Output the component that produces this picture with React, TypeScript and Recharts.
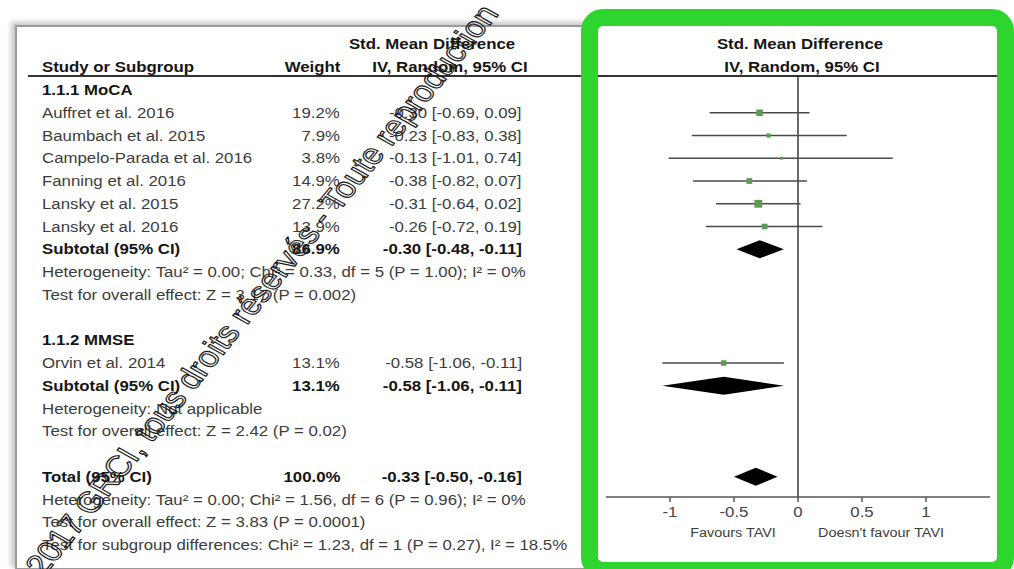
import React from 'react';
import { ComposedChart, Scatter, XAxis, YAxis, ReferenceLine, ReferenceArea } from 'recharts';

// individual studies
const studyNames = [
  'Auffret et al. 2016',
  'Baumbach et al. 2015',
  'Campelo-Parada et al. 2016',
  'Fanning et al. 2016',
  'Lansky et al. 2015',
  'Lansky et al. 2016',
  'Orvin et al. 2014',
];
const studyWeights = [19.2, 7.9, 3.8, 14.9, 27.2, 13.9, 13.1];
const studySmd = [-0.3, -0.23, -0.13, -0.38, -0.31, -0.26, -0.58];
const studyLow = [-0.69, -0.83, -1.01, -0.82, -0.64, -0.72, -1.06];
const studyHigh = [0.09, 0.38, 0.74, 0.07, 0.02, 0.19, -0.11];
const studyRows = [1, 2, 3, 4, 5, 6, 12];

// subtotals and total
const pooledNames = ['Subtotal (95% CI)', 'Subtotal (95% CI)', 'Total (95% CI)'];
const pooledWeights = [86.9, 13.1, 100.0];
const pooledSmd = [-0.3, -0.58, -0.33];
const pooledLow = [-0.48, -1.06, -0.5];
const pooledHigh = [-0.11, -0.11, -0.16];
const pooledRows = [7, 13, 17];

const groupLabels = ['1.1.1 MoCA', '1.1.2 MMSE'];
const groupRows = [0, 11];

const noteLines = [
  'Heterogeneity: Tau\u00b2 = 0.00; Chi\u00b2 = 0.33, df = 5 (P = 1.00); I\u00b2 = 0%',
  'Test for overall effect: Z = 3.17 (P = 0.002)',
  'Heterogeneity: Not applicable',
  'Test for overall effect: Z = 2.42 (P = 0.02)',
  'Heterogeneity: Tau\u00b2 = 0.00; Chi\u00b2 = 1.56, df = 6 (P = 0.96); I\u00b2 = 0%',
  'Test for overall effect: Z = 3.83 (P = 0.0001)',
  'Test for subgroup differences: Chi\u00b2 = 1.23, df = 1 (P = 0.27), I\u00b2 = 18.5%',
];
const noteRows = [8, 9, 14, 15, 18, 19, 20];

const xTicks = [-1, -0.5, 0, 0.5, 1];

const FONT = '"Liberation Sans", Arial, sans-serif';
const ROW0 = 90;
const ROW_H = 22.75;
const rowY = (r: number) => ROW0 + ROW_H * r;
const fmt = (v: number) => (v < 0 ? '-' : '') + Math.abs(v).toFixed(2);
const ciText = (m: number, lo: number, hi: number) => `${fmt(m)} [${fmt(lo)}, ${fmt(hi)}]`;

type TProps = { x: number; y: number; align?: 'left' | 'right' | 'center'; bold?: boolean; size?: number; children: React.ReactNode };

// text is slightly stretched horizontally in the reference
const T = ({ x, y, align = 'left', bold, size = 14, children }: TProps) => {
  const base: React.CSSProperties = {
    position: 'absolute',
    top: y - 9,
    lineHeight: '18px',
    whiteSpace: 'nowrap',
    fontSize: size,
    fontWeight: bold ? 700 : 400,
    color: bold ? '#151515' : '#3c3c3c',
  };
  if (align === 'left') return <div style={{ ...base, left: x, transform: 'scaleX(1.2)', transformOrigin: 'left center' }}>{children}</div>;
  if (align === 'right') return <div style={{ ...base, right: 1014 - x, transform: 'scaleX(1.2)', transformOrigin: 'right center' }}>{children}</div>;
  return <div style={{ ...base, left: x, transform: 'translateX(-50%) scaleX(1.2)' }}>{children}</div>;
};

const studyData = studySmd.map((v, i) => ({ x: v, y: studyRows[i], w: studyWeights[i] }));

const Square = (props: any) => {
  const s = 1.5 * Math.sqrt(props.payload.w);
  return <rect x={props.cx - s / 2} y={props.cy - s / 2} width={s} height={s} fill="#5f9a52" />;
};

const makeDiamond = (frac: number) => (p: any) => {
  const { x, y, width, height } = p;
  const mx = x + width * frac;
  const my = y + height / 2;
  return <polygon points={`${x},${my} ${mx},${y} ${x + width},${my} ${mx},${y + height}`} fill="#000" />;
};

const Tick = (props: any) => {
  const { x, y, payload } = props;
  return (
    <text x={x} y={y + 13} textAnchor="middle" fontSize={14} fill="#444" fontFamily={FONT} transform={`translate(${x},0) scale(1.2,1) translate(${-x},0)`}>
      {String(payload.value)}
    </text>
  );
};

export default function App() {
  return (
    <div style={{ position: 'absolute', left: 0, top: 0, width: 1014, height: 569, background: '#fff', fontFamily: FONT, overflow: 'hidden' }}>
      {/* figure frame */}
      <div style={{ position: 'absolute', left: 15, top: 25, width: 575, height: 541, border: '2px solid #9a9a9a', boxShadow: '-4px -3px 5px #c8c8c8' }} />

      <div style={{ position: 'absolute', left: 0, top: 0 }}>
        <ComposedChart width={1014} height={569} margin={{ top: 76, right: 24, bottom: 42, left: 606 }}>
          <XAxis
            type="number"
            dataKey="x"
            domain={[-1.5, 1.5]}
            ticks={xTicks}
            allowDataOverflow
            height={30}
            stroke="#555"
            strokeWidth={1.5}
            tickSize={5}
            tick={<Tick />}
          />
          <YAxis type="number" dataKey="y" domain={[-0.615, 17.89]} reversed hide allowDataOverflow />
          <ReferenceLine x={0} stroke="#6a6a6a" strokeWidth={2} />
          {studySmd.map((_, i) => (
            <ReferenceLine
              key={`ci-${i}`}
              segment={[{ x: studyLow[i], y: studyRows[i] }, { x: studyHigh[i], y: studyRows[i] }]}
              stroke="#4a4a4a"
              strokeWidth={1.5}
              ifOverflow="visible"
            />
          ))}
          <Scatter data={studyData} shape={<Square />} isAnimationActive={false} />
          {pooledSmd.map((m, i) => (
            <ReferenceArea
              key={`d-${i}`}
              x1={pooledLow[i]}
              x2={pooledHigh[i]}
              y1={pooledRows[i] - 0.4}
              y2={pooledRows[i] + 0.4}
              shape={makeDiamond((m - pooledLow[i]) / (pooledHigh[i] - pooledLow[i]))}
              ifOverflow="visible"
            />
          ))}
        </ComposedChart>
      </div>

      {/* header rule */}
      <div style={{ position: 'absolute', left: 28, top: 75, width: 977, height: 0, borderTop: '2px solid #333' }} />

      {/* column headers */}
      <T x={432} y={44} align="center" bold>Std. Mean Difference</T>
      <T x={42} y={67} bold>Study or Subgroup</T>
      <T x={340} y={67} align="right" bold>Weight</T>
      <T x={450} y={67} align="center" bold>IV, Random, 95% CI</T>
      <T x={800} y={44} align="center" bold>Std. Mean Difference</T>
      <T x={802} y={67} align="center" bold>IV, Random, 95% CI</T>

      {groupLabels.map((g, i) => (
        <T key={g} x={42} y={rowY(groupRows[i])} bold>{g}</T>
      ))}
      {studyNames.map((n, i) => (
        <React.Fragment key={n}>
          <T x={42} y={rowY(studyRows[i])}>{n}</T>
          <T x={340} y={rowY(studyRows[i])} align="right">{studyWeights[i].toFixed(1)}%</T>
          <T x={522} y={rowY(studyRows[i])} align="right">{ciText(studySmd[i], studyLow[i], studyHigh[i])}</T>
        </React.Fragment>
      ))}
      {pooledNames.map((n, i) => (
        <React.Fragment key={`p-${i}`}>
          <T x={42} y={rowY(pooledRows[i])} bold>{n}</T>
          <T x={340} y={rowY(pooledRows[i])} align="right" bold>{pooledWeights[i].toFixed(1)}%</T>
          <T x={522} y={rowY(pooledRows[i])} align="right" bold>{ciText(pooledSmd[i], pooledLow[i], pooledHigh[i])}</T>
        </React.Fragment>
      ))}
      {noteLines.map((n, i) => (
        <T key={`n-${i}`} x={42} y={rowY(noteRows[i])}>{n}</T>
      ))}

      <T x={733} y={533} align="center" size={12}>Favours TAVI</T>
      <T x={881} y={533} align="center" size={12}>Doesn't favour TAVI</T>

      {/* green highlight frame */}
      <div style={{ position: 'absolute', left: 581, top: 9, width: 433, height: 570, border: '17px solid #2fd52f', borderRadius: 22, boxSizing: 'border-box' }} />

      {/* watermark */}
      <div
        style={{
          position: 'absolute',
          left: 262,
          top: 290,
          transform: 'translate(-50%, -50%) scaleX(1.2) rotate(-56deg)',
          fontSize: 29,
          whiteSpace: 'nowrap',
          color: 'transparent',
          WebkitTextStroke: '1.1px #1a1a1a',
        }}
      >
        2017 GRCI, tous droits réservés - Toute reproduction
      </div>
    </div>
  );
}
